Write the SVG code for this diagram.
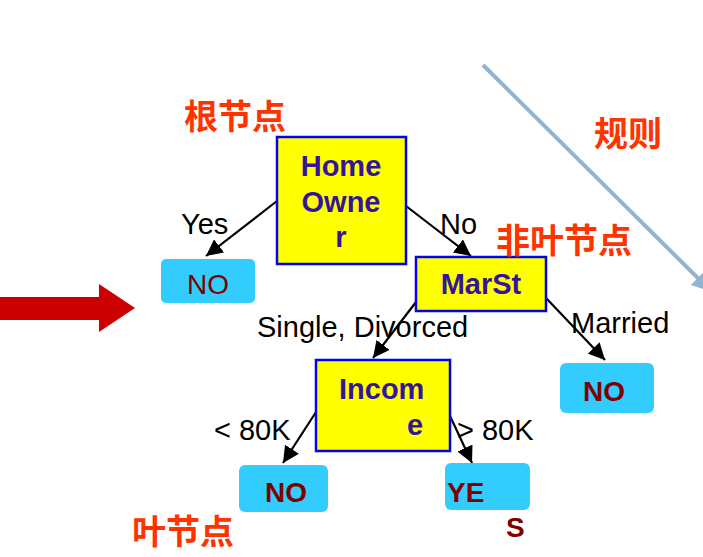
<svg xmlns="http://www.w3.org/2000/svg" width="703" height="557" viewBox="0 0 703 557">
<defs>
<style>
.dec{fill:#FFFF00;stroke:#0000FF;stroke-width:2.5}
.leaf{fill:#33CCFF}
.nt{font-family:"Liberation Sans",Arial,sans-serif;font-weight:bold;font-size:29px;fill:#33149A}
.lt{font-family:"Liberation Sans",Arial,sans-serif;font-size:28px;fill:#800000}
.ltb{font-family:"Liberation Sans",Arial,sans-serif;font-weight:bold;font-size:28px;fill:#800000}
.lab{font-family:"Liberation Sans",Arial,sans-serif;font-size:29px;fill:#000}
.cn{font-family:"Noto Sans CJK SC","Noto Sans CJK JP",sans-serif;font-weight:bold;font-size:34px;fill:#FF3300}
.edge{stroke:#000;stroke-width:2.2;fill:none}
</style>
<marker id="ah" viewBox="0 0 10 10" refX="10" refY="5" markerWidth="7.5" markerHeight="7.5" markerUnits="strokeWidth" orient="auto">
<path d="M0,0 L10,5 L0,10 z" fill="#000"/>
</marker>
<marker id="bh" viewBox="0 0 10 10" refX="10" refY="5" markerWidth="5" markerHeight="5" markerUnits="strokeWidth" orient="auto">
<path d="M0,0 L10,5 L0,10 z" fill="#93B4D1"/>
</marker>
</defs>

<g id="rule-arrow">
<line x1="483" y1="65" x2="712" y2="292" stroke="#93B4D1" stroke-width="4" marker-end="url(#bh)"/>
</g>
<g id="big-arrow">
<path d="M0,297 L99,297 L99,284 L135,308 L99,332 L99,320 L0,320 z" fill="#CC0000"/>
</g>

<g id="connectors">
<line class="edge" x1="277" y1="201" x2="206" y2="256" marker-end="url(#ah)"/>
<line class="edge" x1="406" y1="206" x2="471" y2="256" marker-end="url(#ah)"/>
<line class="edge" x1="416" y1="302" x2="373" y2="358" marker-end="url(#ah)"/>
<line class="edge" x1="546" y1="298" x2="605" y2="360" marker-end="url(#ah)"/>
<line class="edge" x1="316" y1="412" x2="283" y2="463" marker-end="url(#ah)"/>
<line class="edge" x1="450" y1="416" x2="472" y2="463" marker-end="url(#ah)"/>
<text class="lab" x="181" y="234">Yes</text>
<text class="lab" x="440" y="234">No</text>
<text class="lab" x="257" y="337">Single, Divorced</text>
<text class="lab" x="571" y="333">Married</text>
<text class="lab" x="214" y="440">&lt; 80K</text>
<text class="lab" x="457" y="440">&gt; 80K</text>
</g>

<g id="home-owner">
<rect class="dec" x="277" y="137" width="129" height="127"/>
<text class="nt" x="341" y="176" text-anchor="middle">Home</text>
<text class="nt" x="341" y="212" text-anchor="middle">Owne</text>
<text class="nt" x="341" y="247" text-anchor="middle">r</text>
</g>
<g id="no-1">
<rect class="leaf" x="161" y="259" width="94" height="44" rx="5"/>
<text class="lt" x="208" y="294" text-anchor="middle">NO</text>
</g>
<g id="marst">
<rect class="dec" x="416" y="257" width="130" height="54"/>
<text class="nt" x="481" y="294" text-anchor="middle">MarSt</text>
</g>
<g id="no-2">
<rect class="leaf" x="560" y="363" width="94" height="50" rx="6"/>
<text class="ltb" x="604" y="401" text-anchor="middle">NO</text>
</g>
<g id="income">
<rect class="dec" x="316" y="360" width="134" height="91"/>
<text class="nt" x="339" y="399">Incom</text>
<text class="nt" x="407" y="435">e</text>
</g>
<g id="no-3">
<rect class="leaf" x="239" y="465" width="89" height="47" rx="6"/>
<text class="ltb" x="286" y="502" text-anchor="middle">NO</text>
</g>
<g id="yes">
<rect class="leaf" x="445" y="463" width="85" height="47" rx="6"/>
<text class="ltb" x="447" y="502">YE</text>
<text class="ltb" x="506" y="537">S</text>
</g>

<g id="annotations">
<text class="cn" x="184" y="129">根节点</text>
<text class="cn" x="594" y="146">规则</text>
<text class="cn" x="496" y="253">非叶节点</text>
<text class="cn" x="132" y="544">叶节点</text>
</g>
</svg>
